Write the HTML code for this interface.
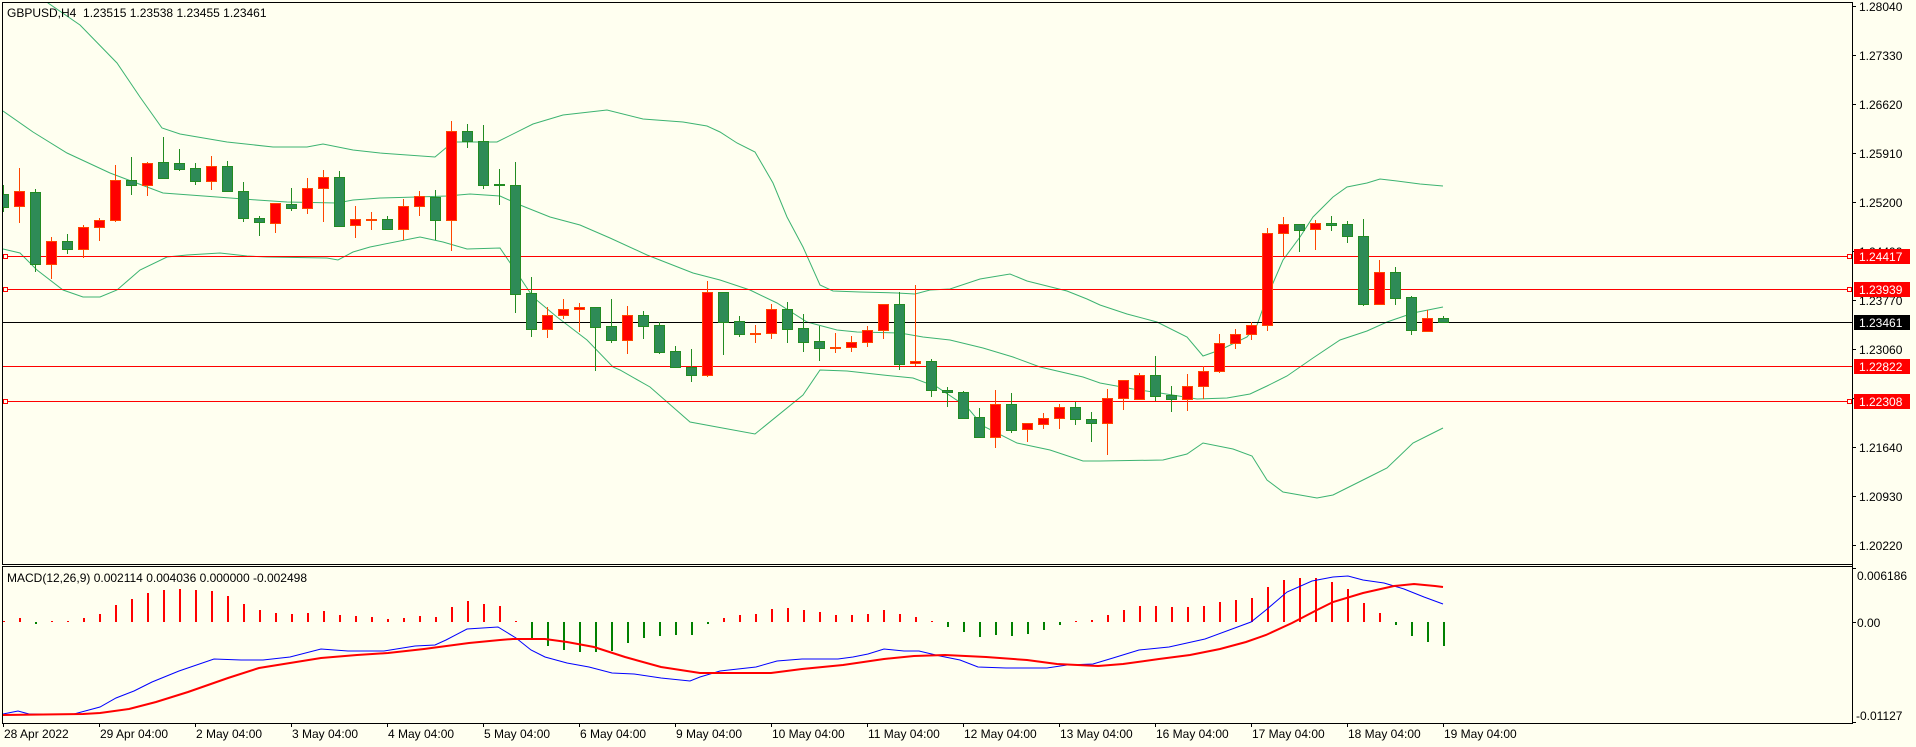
<!DOCTYPE html>
<html><head><meta charset="utf-8"><style>
html,body{margin:0;padding:0;background:#FFFFF0;}
svg{display:block;}
text{font-family:"Liberation Sans",sans-serif;font-size:12px;fill:#000;}
</style></head><body>
<svg width="1916" height="747" viewBox="0 0 1916 747" xmlns="http://www.w3.org/2000/svg">
<defs>
<clipPath id="cm"><rect x="3" y="3" width="1849" height="561"/></clipPath>
<clipPath id="cd"><rect x="3" y="567" width="1849" height="156"/></clipPath>
</defs>
<rect x="0" y="0" width="1916" height="747" fill="#FFFFF0"/>

<g clip-path="url(#cm)">
<!-- Bollinger bands -->
<g fill="none" stroke="#3CB371" stroke-width="1">
<polyline points="3,-40 25,-22 48,3 80,25 117,63 140,97 162,128 180,134 227,142 273,147 307,147 323,144 353,150 380,153 435,157 453,142 497,142 533,124 563,115 607,110 643,119 683,122 707,126 720,132 737,143 755,152 773,183 787,217 803,247 820,285 833,291 860,292 897,293 915,294 930,290 950,289 980,279 1010,274 1027,281 1067,291 1087,299 1100,305 1127,314 1157,322 1187,337 1203,356 1220,350 1247,337 1257,325 1267,297 1283,260 1300,237 1313,217 1333,197 1347,187 1367,183 1380,179 1397,181 1420,184 1443,186"/>
<polyline points="3,111 33,132 67,153 110,173 163,193 190,195 217,197 257,200 287,202 337,203 353,200 367,199 380,198 417,197 447,196 470,194 500,196 520,205 550,217 580,225 610,238 647,255 693,273 720,280 750,290 777,303 807,322 837,330 857,332 900,333 923,337 950,340 983,348 1013,357 1040,367 1083,377 1100,383 1133,389 1160,393 1197,399 1227,398 1250,394 1267,386 1287,376 1313,358 1340,340 1367,331 1387,322 1413,313 1443,307"/>
<polyline points="3,249 20,253 37,270 63,290 83,297 100,297 117,290 140,270 167,257 187,255 220,253 247,256 267,257 327,258 338,260 353,252 370,247 420,237 443,242 467,249 500,248 517,273 533,297 557,317 587,340 613,367 620,370 650,387 690,422 717,427 755,434 803,395 820,370 847,371 883,375 913,378 937,387 967,407 983,426 1017,443 1050,450 1083,461 1100,461 1163,460 1187,454 1203,443 1233,449 1252,456 1267,480 1283,492 1317,498 1333,495 1367,478 1387,468 1413,443 1443,428"/>
</g>

<!-- horizontal lines -->
<g stroke="#FF0000" stroke-width="1" shape-rendering="crispEdges">
<line x1="2" y1="256.5" x2="1852" y2="256.5"/>
<line x1="2" y1="289.5" x2="1852" y2="289.5"/>
<line x1="2" y1="366.5" x2="1852" y2="366.5"/>
<line x1="2" y1="401.5" x2="1852" y2="401.5"/>
</g>
<line x1="2" y1="322.5" x2="1852" y2="322.5" stroke="#000" stroke-width="1" shape-rendering="crispEdges"/>
<g fill="#FFFFF0" stroke="#FF0000" stroke-width="1" shape-rendering="crispEdges">
<rect x="3.5" y="254.5" width="4" height="4"/><rect x="1847.5" y="254.5" width="4" height="4"/>
<rect x="3.5" y="287.5" width="4" height="4"/><rect x="1847.5" y="287.5" width="4" height="4"/>
<rect x="3.5" y="399.5" width="4" height="4"/><rect x="1847.5" y="399.5" width="4" height="4"/>
</g>

<!-- bull wicks -->
<path fill="none" stroke="#FF4500" stroke-width="1" shape-rendering="crispEdges" d="M19.5 168V223M51.5 237V279M83.5 225V258M99.5 218V241M115.5 165V222M147.5 162V196M211.5 156V190M275.5 203V233M307.5 178V214M323.5 170V222M355.5 206V238M371.5 212V230M403.5 199V240M419.5 191V216M451.5 121V251M547.5 307V338M563.5 299V319M579.5 303V332M627.5 306V354M707.5 281V377M755.5 325V343M771.5 304V339M835.5 333V353M851.5 336V352M867.5 326V347M883.5 304V339M915.5 285V366M995.5 390V448M1027.5 423V442M1043.5 413V429M1059.5 404V429M1107.5 389V455M1123.5 380V410M1139.5 373V399M1187.5 374V411M1203.5 366V399M1219.5 334V373M1235.5 329V349M1251.5 322V340M1267.5 228V331M1283.5 217V256M1315.5 220V250M1379.5 260V304M1427.5 310V331"/>
<!-- bear wicks -->
<path fill="none" stroke="#228B22" stroke-width="1" shape-rendering="crispEdges" d="M3.5 185V212M35.5 189V272M67.5 234V254M131.5 157V195M163.5 137V179M179.5 149V171M195.5 163V185M227.5 161V192M243.5 182V222M259.5 216V236M291.5 188V211M339.5 171V226M387.5 216V229M435.5 190V240M467.5 124V148M483.5 125V189M499.5 169V205M515.5 162V313M531.5 277V337M595.5 307V371M611.5 299V343M643.5 311V339M659.5 322V354M675.5 346V368M691.5 349V382M723.5 292V355M739.5 316V337M787.5 302V343M803.5 314V352M819.5 326V361M899.5 292V370M931.5 359V397M947.5 387V407M963.5 391V418M979.5 408V437M1011.5 393V433M1075.5 402V425M1091.5 412V442M1155.5 356V401M1171.5 386V412M1299.5 224V252M1331.5 216V231M1347.5 221V243M1363.5 219V306M1395.5 267V305M1411.5 296V335M1443.5 316V322"/>

<!-- bull bodies -->
<g fill="#FF0000" stroke="#FF4500" stroke-width="1" shape-rendering="crispEdges">
<rect x="14.5" y="191.5" width="10" height="15"/>
<rect x="46.5" y="241.5" width="10" height="23"/>
<rect x="78.5" y="227.5" width="10" height="22"/>
<rect x="94.5" y="220.5" width="10" height="7"/>
<rect x="110.5" y="180.5" width="10" height="40"/>
<rect x="142.5" y="163.5" width="10" height="22"/>
<rect x="206.5" y="166.5" width="10" height="15"/>
<rect x="270.5" y="203.5" width="10" height="20"/>
<rect x="302.5" y="188.5" width="10" height="20"/>
<rect x="318.5" y="177.5" width="10" height="11"/>
<rect x="350.5" y="219.5" width="10" height="6"/>
<rect x="366.5" y="219.5" width="10" height="1"/>
<rect x="398.5" y="206.5" width="10" height="23"/>
<rect x="414.5" y="196.5" width="10" height="10"/>
<rect x="446.5" y="131.5" width="10" height="89"/>
<rect x="542.5" y="315.5" width="10" height="14"/>
<rect x="558.5" y="309.5" width="10" height="6"/>
<rect x="574.5" y="307.5" width="10" height="2"/>
<rect x="622.5" y="315.5" width="10" height="25"/>
<rect x="702.5" y="292.5" width="10" height="83"/>
<rect x="750.5" y="333.5" width="10" height="1"/>
<rect x="766.5" y="309.5" width="10" height="24"/>
<rect x="830.5" y="347.5" width="10" height="1"/>
<rect x="846.5" y="342.5" width="10" height="5"/>
<rect x="862.5" y="330.5" width="10" height="12"/>
<rect x="878.5" y="304.5" width="10" height="26"/>
<rect x="910.5" y="361.5" width="10" height="2"/>
<rect x="990.5" y="404.5" width="10" height="33"/>
<rect x="1022.5" y="423.5" width="10" height="6"/>
<rect x="1038.5" y="418.5" width="10" height="6"/>
<rect x="1054.5" y="407.5" width="10" height="11"/>
<rect x="1102.5" y="398.5" width="10" height="25"/>
<rect x="1118.5" y="380.5" width="10" height="18"/>
<rect x="1134.5" y="375.5" width="10" height="24"/>
<rect x="1182.5" y="386.5" width="10" height="13"/>
<rect x="1198.5" y="371.5" width="10" height="15"/>
<rect x="1214.5" y="343.5" width="10" height="28"/>
<rect x="1230.5" y="334.5" width="10" height="9"/>
<rect x="1246.5" y="325.5" width="10" height="9"/>
<rect x="1262.5" y="233.5" width="10" height="92"/>
<rect x="1278.5" y="224.5" width="10" height="9"/>
<rect x="1310.5" y="223.5" width="10" height="6"/>
<rect x="1374.5" y="272.5" width="10" height="32"/>
<rect x="1422.5" y="318.5" width="10" height="13"/>
</g>
<!-- bear bodies -->
<g fill="#2E8B57" stroke="#228B22" stroke-width="1" shape-rendering="crispEdges">
<rect x="-1.5" y="194.5" width="10" height="13"/>
<rect x="30.5" y="192.5" width="10" height="72"/>
<rect x="62.5" y="241.5" width="10" height="8"/>
<rect x="126.5" y="180.5" width="10" height="5"/>
<rect x="158.5" y="162.5" width="10" height="16"/>
<rect x="174.5" y="163.5" width="10" height="6"/>
<rect x="190.5" y="168.5" width="10" height="13"/>
<rect x="222.5" y="166.5" width="10" height="25"/>
<rect x="238.5" y="191.5" width="10" height="27"/>
<rect x="254.5" y="218.5" width="10" height="4"/>
<rect x="286.5" y="204.5" width="10" height="4"/>
<rect x="334.5" y="177.5" width="10" height="49"/>
<rect x="382.5" y="219.5" width="10" height="10"/>
<rect x="430.5" y="197.5" width="10" height="23"/>
<rect x="462.5" y="131.5" width="10" height="10"/>
<rect x="478.5" y="141.5" width="10" height="44"/>
<rect x="494.5" y="184.5" width="10" height="1"/>
<rect x="510.5" y="185.5" width="10" height="109"/>
<rect x="526.5" y="293.5" width="10" height="36"/>
<rect x="590.5" y="307.5" width="10" height="20"/>
<rect x="606.5" y="326.5" width="10" height="14"/>
<rect x="638.5" y="315.5" width="10" height="11"/>
<rect x="654.5" y="325.5" width="10" height="27"/>
<rect x="670.5" y="351.5" width="10" height="16"/>
<rect x="686.5" y="367.5" width="10" height="8"/>
<rect x="718.5" y="292.5" width="10" height="30"/>
<rect x="734.5" y="321.5" width="10" height="13"/>
<rect x="782.5" y="309.5" width="10" height="20"/>
<rect x="798.5" y="328.5" width="10" height="14"/>
<rect x="814.5" y="341.5" width="10" height="7"/>
<rect x="894.5" y="304.5" width="10" height="60"/>
<rect x="926.5" y="361.5" width="10" height="29"/>
<rect x="942.5" y="390.5" width="10" height="2"/>
<rect x="958.5" y="392.5" width="10" height="26"/>
<rect x="974.5" y="417.5" width="10" height="20"/>
<rect x="1006.5" y="404.5" width="10" height="26"/>
<rect x="1070.5" y="407.5" width="10" height="12"/>
<rect x="1086.5" y="419.5" width="10" height="4"/>
<rect x="1150.5" y="375.5" width="10" height="21"/>
<rect x="1166.5" y="395.5" width="10" height="4"/>
<rect x="1294.5" y="224.5" width="10" height="6"/>
<rect x="1326.5" y="223.5" width="10" height="2"/>
<rect x="1342.5" y="224.5" width="10" height="12"/>
<rect x="1358.5" y="236.5" width="10" height="68"/>
<rect x="1390.5" y="272.5" width="10" height="26"/>
<rect x="1406.5" y="297.5" width="10" height="33"/>
<rect x="1438.5" y="318.5" width="10" height="4"/>
</g>
</g>

<!-- MACD panel -->
<g clip-path="url(#cd)">
<path fill="none" stroke="#FF0000" stroke-width="2" shape-rendering="crispEdges" d="M4 622V621M20 622V618M52 622V621M68 622V621M84 622V618M100 622V614M116 622V605M132 622V599M148 622V593M164 622V590M180 622V589M196 622V590M212 622V591M228 622V596M244 622V604M260 622V610M276 622V613M292 622V614M308 622V613M324 622V611M340 622V615M356 622V616M372 622V617M388 622V619M404 622V618M420 622V616M436 622V617M452 622V607M468 622V601M484 622V604M500 622V606M516 622V621M724 622V618M740 622V615M756 622V614M772 622V609M788 622V608M804 622V610M820 622V612M836 622V615M852 622V615M868 622V614M884 622V610M900 622V614M916 622V617M932 622V621M1076 622V621M1092 622V620M1108 622V615M1124 622V610M1140 622V606M1156 622V606M1172 622V607M1188 622V607M1204 622V606M1220 622V602M1236 622V600M1252 622V598M1268 622V587M1284 622V580M1300 622V578M1316 622V578M1332 622V582M1348 622V589M1364 622V603M1380 622V613"/>
<path fill="none" stroke="#008000" stroke-width="2" shape-rendering="crispEdges" d="M36 622V624M532 622V638M548 622V646M564 622V650M580 622V652M596 622V652M612 622V651M628 622V643M644 622V638M660 622V636M676 622V635M692 622V635M708 622V624M948 622V627M964 622V632M980 622V637M996 622V635M1012 622V636M1028 622V634M1044 622V630M1060 622V625M1396 622V625M1412 622V636M1428 622V642M1444 622V646"/>
<polyline fill="none" stroke="#0000FF" stroke-width="1" points="3,714 18,711 29,714 74,714 100,707 116,698 134,691 152,682 179,671 214,659 241,660 263,660 290,657 321,649 348,651 384,651 415,646 435,645 446,640 467,629 498,627 516,638 531,650 545,657 567,663 589,667 612,673 634,674 661,678 690,681 700,677 720,671 756,667 777,661 802,659 838,659 853,657 868,654 884,649 904,651 919,651 940,656 960,660 978,667 1006,668 1047,668 1067,665 1093,664 1113,658 1139,650 1169,647 1205,639 1251,622 1266,610 1287,592 1312,581 1333,577 1348,576 1363,580 1384,583 1404,589 1424,597 1443,604"/>
<polyline fill="none" stroke="#FF0000" stroke-width="2" points="3,715 83,714 100,713 129,709 156,702 188,692 228,678 259,668 290,663 321,658 357,655 388,653 424,649 469,643 500,640 513,639 545,639 567,642 594,647 625,657 661,667 700,673 771,673 802,669 843,665 884,659 914,656 945,655 986,657 1027,660 1057,664 1098,666 1123,664 1159,659 1190,655 1220,649 1246,642 1266,635 1292,623 1317,610 1333,602 1363,593 1394,586 1414,584 1435,586 1443,587"/>
</g>

<!-- frames -->
<g fill="none" stroke="#000" stroke-width="1" shape-rendering="crispEdges">
<rect x="2.5" y="2.5" width="1850" height="562"/>
<rect x="2.5" y="566.5" width="1850" height="157"/>
<line x1="1852.5" y1="2" x2="1852.5" y2="724"/>
</g>

<!-- price axis ticks -->
<path stroke="#000" stroke-width="1" shape-rendering="crispEdges" d="M1853 6.5H1856M1853 55.5H1856M1853 104.5H1856M1853 153.5H1856M1853 202.5H1856M1853 251.5H1856M1853 300.5H1856M1853 349.5H1856M1853 398.5H1856M1853 447.5H1856M1853 496.5H1856M1853 545.5H1856M1853 568.5H1856M1853 622.5H1856M1853 722.5H1856"/>
<g>
<text x="1859" y="11">1.28040</text>
<text x="1859" y="60">1.27330</text>
<text x="1859" y="109">1.26620</text>
<text x="1859" y="158">1.25910</text>
<text x="1859" y="207">1.25200</text>
<text x="1859" y="256">1.24490</text>
<text x="1859" y="305">1.23770</text>
<text x="1859" y="354">1.23060</text>
<text x="1859" y="403">1.22350</text>
<text x="1859" y="452">1.21640</text>
<text x="1859" y="501">1.20930</text>
<text x="1859" y="550">1.20220</text>
<text x="1857" y="580">0.006186</text>
<text x="1857" y="627">0.00</text>
<text x="1856" y="720">-0.01127</text>
</g>
<!-- colored price boxes -->
<g shape-rendering="crispEdges">
<rect x="1854" y="249" width="56" height="15" fill="#FF0000"/>
<rect x="1854" y="282" width="56" height="15" fill="#FF0000"/>
<rect x="1854" y="315" width="56" height="15" fill="#000000"/>
<rect x="1854" y="359" width="56" height="15" fill="#FF0000"/>
<rect x="1854" y="394" width="56" height="15" fill="#FF0000"/>
</g>
<g style="fill:#FFFFFF">
<text x="1859" y="261" style="fill:#fff">1.24417</text>
<text x="1859" y="294" style="fill:#fff">1.23939</text>
<text x="1859" y="327" style="fill:#fff">1.23461</text>
<text x="1859" y="371" style="fill:#fff">1.22822</text>
<text x="1859" y="406" style="fill:#fff">1.22308</text>
</g>

<!-- time axis -->
<path stroke="#000" stroke-width="1" shape-rendering="crispEdges" d="M3.5 723V727M99.5 723V727M195.5 723V727M291.5 723V727M387.5 723V727M483.5 723V727M579.5 723V727M675.5 723V727M771.5 723V727M867.5 723V727M963.5 723V727M1059.5 723V727M1155.5 723V727M1251.5 723V727M1347.5 723V727M1443.5 723V727"/>
<g>
<text x="4" y="738">28 Apr 2022</text>
<text x="100" y="738">29 Apr 04:00</text>
<text x="196" y="738">2 May 04:00</text>
<text x="292" y="738">3 May 04:00</text>
<text x="388" y="738">4 May 04:00</text>
<text x="484" y="738">5 May 04:00</text>
<text x="580" y="738">6 May 04:00</text>
<text x="676" y="738">9 May 04:00</text>
<text x="772" y="738">10 May 04:00</text>
<text x="868" y="738">11 May 04:00</text>
<text x="964" y="738">12 May 04:00</text>
<text x="1060" y="738">13 May 04:00</text>
<text x="1156" y="738">16 May 04:00</text>
<text x="1252" y="738">17 May 04:00</text>
<text x="1348" y="738">18 May 04:00</text>
<text x="1444" y="738">19 May 04:00</text>
</g>

<!-- titles -->
<text x="7" y="17" xml:space="preserve">GBPUSD,H4  1.23515 1.23538 1.23455 1.23461</text>
<text x="7" y="582">MACD(12,26,9) 0.002114 0.004036 0.000000 -0.002498</text>
</svg>
</body></html>
